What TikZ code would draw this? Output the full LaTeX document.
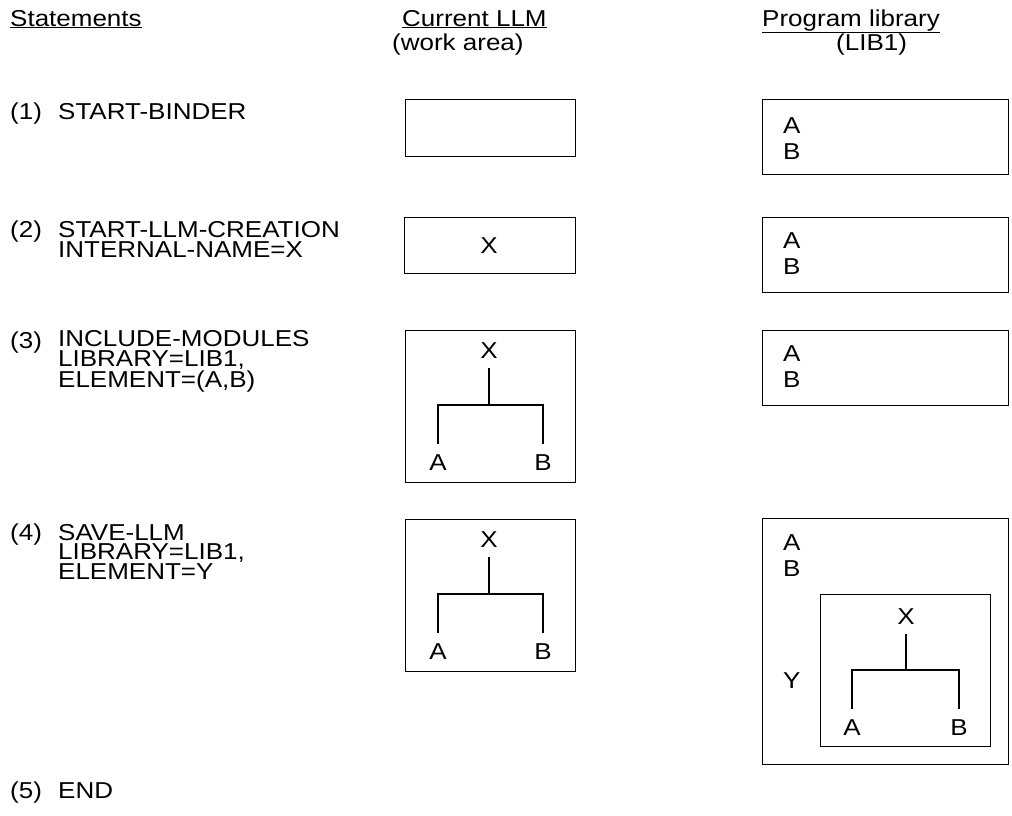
\documentclass[tikz,border=0pt]{standalone}
\usepackage{fontspec}
\setmainfont{Liberation Sans}[FakeStretch=1.13]
\begin{document}
\begin{tikzpicture}[x=1pt,y=-1pt,
  font=\fontsize{23}{19.5}\selectfont,
  txt/.style={anchor=base west, inner sep=0pt, text height=16.5pt, text depth=0pt},
  blk/.style={anchor=base west, inner sep=0pt, align=left},
  box/.style={draw, line width=1.1pt, anchor=north west, inner sep=0pt},
  let/.style={inner sep=10pt, text height=16.5pt, text depth=0pt},
  tree/.style={line width=1.1pt}]
\useasboundingbox (0,0) rectangle (1012,815);
% header
\node[txt] (h1) at (10,26) {\underline{Statements}};
\node[txt] (h2) at (402,26) {\underline{Current LLM}};
\node[txt] (h2b) at (392,50) {(work area)};
\node[txt] (h3) at (762,26) {\underline{Program library}};
\node[txt] (h3b) at (836,50) {(LIB1)};
% statements (block anchors sit on the last line's baseline)
\node[txt] (n1) at (10,119) {(1)};
\node[txt] (s1) at (58,119) {START-BINDER};
\node[txt] (n2) at (10,237) {(2)};
\node[blk] (s2) at (58,257) {START-LLM-CREATION\\[0.5pt]INTERNAL-NAME=X};
\node[txt] (n3) at (10,348) {(3)};
\node[blk] (s3) at (58,387) {INCLUDE-MODULES\\LIBRARY=LIB1,\\ELEMENT=(A,B)};
\node[txt] (n4) at (10,540) {(4)};
\node[blk] (s4) at (58,579) {SAVE-LLM\\LIBRARY=LIB1,\\ELEMENT=Y};
\node[txt] (n5) at (10,798) {(5)};
\node[txt] (s5) at (58,798) {END};
% current LLM boxes
\node[box, minimum width=170pt, minimum height=57pt] (c1) at (405,99) {};
\node[box, minimum width=171pt, minimum height=56pt] (c2) at (404,217) {};
\node[let] (x2) at (489,245) {X};
\node[box, minimum width=170pt, minimum height=152pt] (c3) at (405,330) {};
\node[let] (x3) at (489,350) {X};
\node[let] (a3) at (438,462) {A};
\node[let] (b3) at (543,462) {B};
\coordinate (j3) at (489,405);
\draw[tree] (x3.south) -- (j3);
\draw[tree] (a3.north) |- (j3) -| (b3.north);
\node[box, minimum width=170pt, minimum height=152pt] (c4) at (405,519) {};
\node[let] (x4) at (489,539) {X};
\node[let] (a4) at (438,651) {A};
\node[let] (b4) at (543,651) {B};
\coordinate (j4) at (489,594);
\draw[tree] (x4.south) -- (j4);
\draw[tree] (a4.north) |- (j4) -| (b4.north);
% library boxes
\node[box, minimum width=246pt, minimum height=75pt] (l1) at (762,99) {};
\node[txt] (la1) at (783,133) {A};
\node[txt] (lb1) at (783,159) {B};
\node[box, minimum width=246pt, minimum height=75pt] (l2) at (762,217) {};
\node[txt] (la2) at (783,248) {A};
\node[txt] (lb2) at (783,274) {B};
\node[box, minimum width=246pt, minimum height=75pt] (l3) at (762,330) {};
\node[txt] (la3) at (783,361) {A};
\node[txt] (lb3) at (783,387) {B};
\node[box, minimum width=246pt, minimum height=246pt] (l4) at (762,518) {};
\node[txt] (la4) at (783,550) {A};
\node[txt] (lb4) at (783,576) {B};
\node[txt] (ly4) at (783,688) {Y};
\node[box, minimum width=170pt, minimum height=152pt] (in4) at (820,594) {};
\node[let] (xi) at (906,616) {X};
\node[let] (ai) at (852,727) {A};
\node[let] (bi) at (959,727) {B};
\coordinate (ji) at (906,670);
\draw[tree] (xi.south) -- (ji);
\draw[tree] (ai.north) |- (ji) -| (bi.north);
\end{tikzpicture}
\end{document}
